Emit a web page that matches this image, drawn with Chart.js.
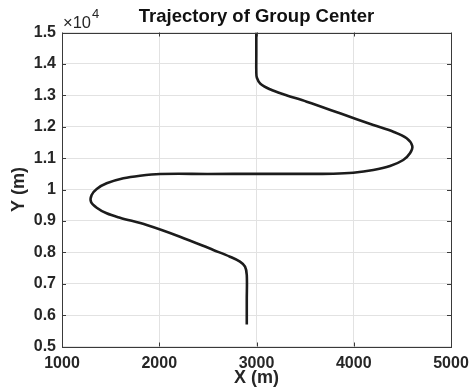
<!DOCTYPE html>
<html><head><meta charset="utf-8">
<script src="https://cdn.jsdelivr.net/npm/chart.js@4/dist/chart.umd.min.js"></script>
<style>html,body{margin:0;padding:0;background:#fff}#wrap{width:470px;height:389px}</style>
</head><body><div id="wrap"><canvas id="c" width="470" height="389"></canvas></div>
<script>
// ---- data ----
const titleText = 'Trajectory of Group Center';
const xLabel = 'X (m)';
const yLabel = 'Y (m)';
const xTicks = [1000, 2000, 3000, 4000, 5000];
const yTicks = [5000, 6000, 7000, 8000, 9000, 10000, 11000, 12000, 13000, 14000, 15000];
const yExponentBase = '\u00d710';
const yExponent = '4';
const trajX = [2900, 2900, 2900, 2882, 2830, 2727, 2556, 2213, 1871, 1596, 1459, 1357, 1298, 1305, 1357, 1459, 1631, 1802, 2008, 2500, 3036, 3500, 3790, 3995, 4201, 4373, 4509, 4578, 4602, 4544, 4407, 4201, 3859, 3516, 3276, 3139, 3040, 3004, 2998, 2998, 2998];
const trajY = [5700, 6500, 7277, 7541, 7701, 7860, 8073, 8497, 8869, 9102, 9242, 9420, 9611, 9825, 10016, 10197, 10357, 10440, 10494, 10496, 10497, 10499, 10503, 10535, 10621, 10748, 10940, 11153, 11385, 11631, 11841, 12054, 12427, 12796, 13032, 13191, 13370, 13560, 13750, 14300, 15000];

const FONT = '"Liberation Sans", Arial, Helvetica, sans-serif';
const TXT = '#262626';

const matlabAxes = {
  id: 'matlabAxes',
  afterDraw(chart) {
    const {ctx, chartArea: {left, right, top, bottom}, scales: {x, y}} = chart;
    ctx.save();
    ctx.strokeStyle = '#3a3a3a';
    ctx.lineWidth = 1;
    const L = 4;
    ctx.beginPath();
    x.ticks.forEach((t, i) => {
      const px = Math.round(x.getPixelForTick(i)) + 0.5;
      ctx.moveTo(px, bottom); ctx.lineTo(px, bottom - L);
      ctx.moveTo(px, top); ctx.lineTo(px, top + L);
    });
    y.ticks.forEach((t, i) => {
      const py = Math.round(y.getPixelForTick(i)) + 0.5;
      ctx.moveTo(left, py); ctx.lineTo(left + L, py);
      ctx.moveTo(right, py); ctx.lineTo(right - L, py);
    });
    ctx.stroke();
    ctx.strokeRect(Math.round(left) + 0.5, Math.round(top) + 0.5, Math.round(right - left), Math.round(bottom - top));
    // exponent label
    ctx.fillStyle = TXT;
    ctx.textAlign = 'left';
    ctx.textBaseline = 'alphabetic';
    ctx.font = '16.5px ' + FONT;
    ctx.fillText(yExponentBase, left + 1, top - 4.5);
    const w = ctx.measureText(yExponentBase).width;
    ctx.font = '13px ' + FONT;
    ctx.fillText(yExponent, left + 1 + w + 1, top - 14.5);
    ctx.restore();
  }
};

new Chart(document.getElementById('c'), {
  type: 'scatter',
  data: {
    datasets: [{
      data: trajX.map((v, i) => ({x: v, y: trajY[i]})),
      showLine: true,
      borderColor: '#1c1c1c',
      borderWidth: 2.6,
      pointRadius: 0,
      tension: 0.35,
      fill: false
    }]
  },
  options: {
    responsive: false,
    animation: false,
    devicePixelRatio: 1,
    layout: {padding: {left: 0, right: 19, top: 0, bottom: 0}},
    plugins: {
      legend: {display: false},
      tooltip: {enabled: false},
      title: {
        display: true, text: titleText, color: '#111', fullSize: false,
        font: {family: FONT, size: 18.5, weight: 'bold', lineHeight: 1.2},
        padding: {top: 5.7, bottom: 4.6}
      }
    },
    scales: {
      x: {
        type: 'linear', min: 1000, max: 5000,
        afterBuildTicks: s => { s.ticks = xTicks.map(v => ({value: v})); },
        afterFit: s => { s.height = 42.5; s.paddingLeft = 0; s.paddingRight = 0; },
        grid: {color: '#e2e2e2', drawTicks: false, lineWidth: 1},
        border: {display: false},
        ticks: {color: TXT, padding: 7, maxRotation: 0, font: {family: FONT, size: 16, weight: 'bold'}, callback: v => String(v)},
        title: {display: true, text: xLabel, color: TXT, font: {family: FONT, size: 18, weight: 'bold', lineHeight: 1.2}, padding: {top: 0, bottom: 0}}
      },
      y: {
        type: 'linear', min: 5000, max: 15000,
        afterBuildTicks: s => { s.ticks = yTicks.map(v => ({value: v})); },
        afterFit: s => { s.width = 62; s.paddingTop = 0; s.paddingBottom = 0; },
        grid: {color: '#e2e2e2', drawTicks: false, lineWidth: 1},
        border: {display: false},
        ticks: {color: TXT, padding: 6, font: {family: FONT, size: 16, weight: 'bold'}, callback: v => String(parseFloat((v / 10000).toFixed(1)))},
        title: {display: true, text: yLabel, color: TXT, font: {family: FONT, size: 18, weight: 'bold', lineHeight: 1.2}, padding: {top: 8.7, bottom: 0}}
      }
    }
  },
  plugins: [matlabAxes]
});
</script>
</body></html>
